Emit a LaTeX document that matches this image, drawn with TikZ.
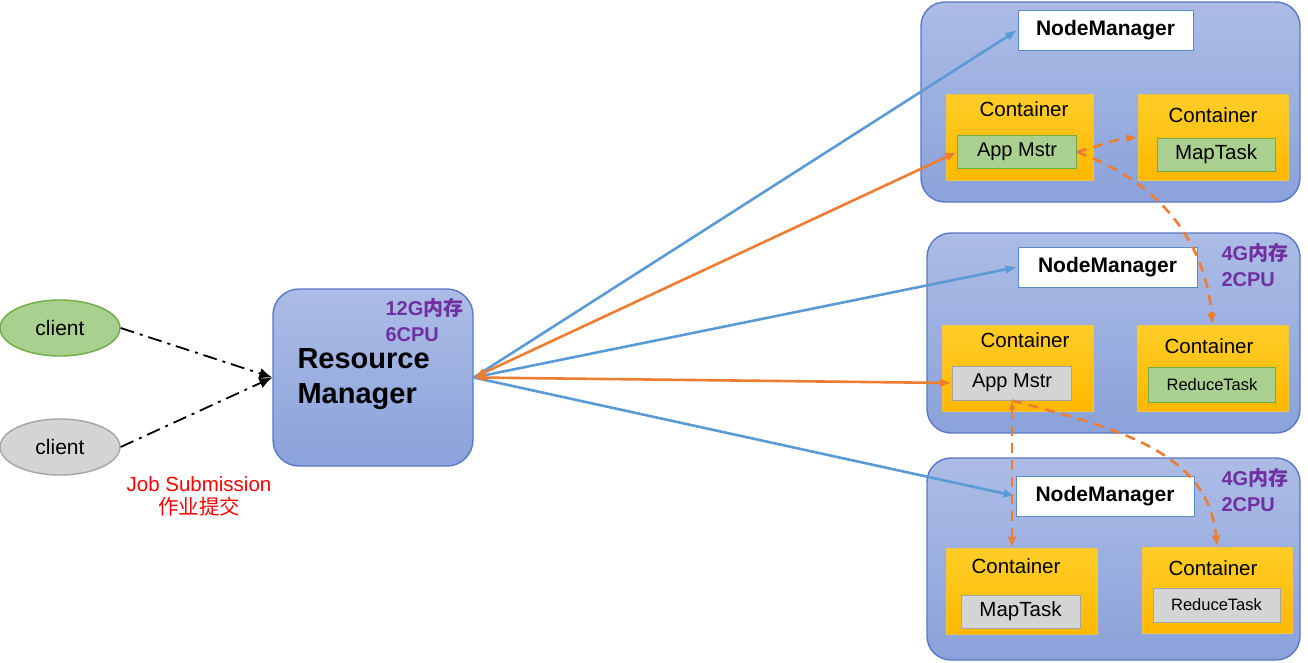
\documentclass[tikz,border=0pt]{standalone}
\usepackage{fontspec}
\setmainfont{Liberation Sans}
\newfontfamily\cjk{Noto Sans CJK SC}
\usetikzlibrary{arrows.meta, shapes.geometric}

\definecolor{hostline}{RGB}{90,120,195}
\definecolor{hosttop}{RGB}{172,188,230}
\definecolor{hostbot}{RGB}{138,162,218}
\definecolor{conttop}{RGB}{255,205,40}
\definecolor{contbot}{RGB}{255,184,0}
\definecolor{contline}{RGB}{245,195,70}
\definecolor{taskgfill}{RGB}{169,208,142}
\definecolor{taskgline}{RGB}{112,173,71}
\definecolor{taskafill}{RGB}{212,212,212}
\definecolor{taskaline}{RGB}{165,165,165}
\definecolor{nmline}{RGB}{91,140,200}
\definecolor{arrblue}{RGB}{91,155,213}
\definecolor{arrorange}{RGB}{237,125,49}
\definecolor{respurple}{RGB}{112,48,160}

\begin{document}
\begin{tikzpicture}[x=1pt, y=-1pt,
   host/.style={draw=hostline, line width=1.4pt, rounded corners=24pt,
         top color=hosttop, bottom color=hostbot, inner sep=0pt},
   nmbox/.style={draw=nmline, line width=1pt, fill=white, inner sep=0pt,
         minimum width=177pt, minimum height=40pt,
         font=\bfseries\fontsize{21}{24}\selectfont},
   contbox/.style={draw=contline, line width=1pt, top color=conttop,
         bottom color=contbot, inner sep=0pt, minimum width=150pt, minimum height=86pt},
   conttitle/.style={font=\fontsize{20.5}{24}\selectfont},
   greentask/.style={draw=taskgline, line width=1pt, fill=taskgfill, inner sep=0pt,
         minimum height=33pt},
   graytask/.style={draw=taskaline, line width=1pt, fill=taskafill, inner sep=0pt,
         minimum height=33pt},
   res/.style={text=respurple, align=left, anchor=west,
         font=\bfseries\fontsize{20}{26}\selectfont},
   client/.style={ellipse, line width=1.4pt, inner sep=0pt, minimum width=120pt,
         minimum height=56pt, font=\fontsize{21}{24}\selectfont},
   blu/.style={-{Latex[length=12pt, width=9pt]}, draw=arrblue, line width=2.6pt},
   org/.style={{Latex[length=12pt, width=9pt]}-{Latex[length=12pt, width=9pt]},
         draw=arrorange, line width=2.6pt},
   orgdash/.style={-{Latex[length=11pt, width=9pt]}, draw=arrorange, line width=2.6pt,
         dash pattern=on 10pt off 7pt},
   dashdot/.style={-{Latex[length=13pt, width=11pt]}, line width=1.8pt,
         dash pattern=on 14pt off 6pt on 3pt off 6pt},
  ]
  \useasboundingbox (0,0) rectangle (1308,662);

  % clients and resource manager
  \node[client, draw=taskgline, fill=taskgfill] (cl1) at (60,328) {client};
  \node[client, draw=taskaline, fill=taskafill] (cl2) at (60,447) {client};
  \node[host, rounded corners=26pt, minimum width=200pt, minimum height=177pt]
    (rm) at (373,377.5) {};
  \node[align=left, anchor=west, font=\bfseries\fontsize{29}{35}\selectfont]
    (rmtxt) at (294,379) {Resource\\Manager};
  \node[res] (rmres) at (382,320) {12G{\cjk 内存}\\6CPU};
  \node[text=red, align=center, font=\fontsize{20.5}{23}\selectfont]
    (jobtxt) at (199,496.5) {Job Submission\\{\cjk 作业提交}};

  % node managers
  \node[host, minimum width=379pt, minimum height=200pt] (h1) at (1110.5,102) {};
  \node[host, minimum width=373pt, minimum height=200pt] (h2) at (1113.5,333) {};
  \node[host, minimum width=373pt, minimum height=202pt] (h3) at (1113.5,559) {};

  \node[nmbox, minimum width=175pt] (nm1) at (1105.5,30) {NodeManager};
  \node[nmbox, minimum width=179pt] (nm2) at (1107.5,267) {NodeManager};
  \node[nmbox, minimum width=178pt] (nm3) at (1105,496) {NodeManager};

  \node[res] (res2) at (1218,265) {4G{\cjk 内存}\\2CPU};
  \node[res] (res3) at (1218,490) {4G{\cjk 内存}\\2CPU};

  % containers
  \node[contbox, minimum width=147pt] (c1) at (1019.5,137) {};
  \node[contbox] (c2) at (1213,137.5) {};
  \node[contbox, minimum width=151pt] (c3) at (1017.5,368) {};
  \node[contbox, minimum width=151pt] (c4) at (1212.5,368) {};
  \node[contbox, minimum width=151pt] (c5) at (1021.5,591) {};
  \node[contbox] (c6) at (1217,590) {};

  \node[conttitle] (c1t) at (1024,109) {Container};
  \node[conttitle] (c2t) at (1213,115) {Container};
  \node[conttitle] (c3t) at (1025,340) {Container};
  \node[conttitle] (c4t) at (1209,346) {Container};
  \node[conttitle] (c5t) at (1016,566) {Container};
  \node[conttitle] (c6t) at (1213,568) {Container};

  \node[greentask, minimum width=119pt, font=\fontsize{20}{24}\selectfont]
    (am1) at (1017,152) {App Mstr};
  \node[greentask, minimum width=118pt, font=\fontsize{20.5}{24}\selectfont]
    (mt1) at (1216,154.5) {MapTask};
  \node[graytask, minimum width=119pt, minimum height=34pt, font=\fontsize{20}{24}\selectfont]
    (am2) at (1012,383) {App Mstr};
  \node[greentask, minimum width=127pt, minimum height=35pt, font=\fontsize{16.5}{20}\selectfont]
    (rt1) at (1212,384.5) {ReduceTask};
  \node[graytask, minimum width=119pt, font=\fontsize{20.5}{24}\selectfont]
    (mt2) at (1020.5,611.5) {MapTask};
  \node[graytask, minimum width=127pt, minimum height=34pt, font=\fontsize{16.5}{20}\selectfont]
    (rt2) at (1216.5,605) {ReduceTask};

  % job submission
  \draw[dashdot] (cl1.east) -- (rm.west);
  \draw[dashdot] (cl2.east) -- (rm.west);

  % resource manager <-> nodes
  \draw[blu] (rm.east) -- (nm1.west);
  \draw[blu] (rm.east) -- (nm2.west);
  \draw[blu] (rm.east) -- (nm3.west);
  \draw[org] (rm.east) -- (am1.west);
  \draw[org] (rm.east) -- (am2.west);

  % app master requests
  \draw[orgdash] (am1.east) to[out=15, in=185] (c2.west);
  \draw[orgdash] (am1.east) to[out=-20, in=95] (c4.north);
  \draw[orgdash, {Latex[length=9pt, width=7pt]}-{Latex[length=11pt, width=9pt]}]
    (am2.south) -- (am2.south |- c5.north);
  \draw[orgdash] (am2.south) to[out=-15, in=95] (c6.north);
\end{tikzpicture}
\end{document}
